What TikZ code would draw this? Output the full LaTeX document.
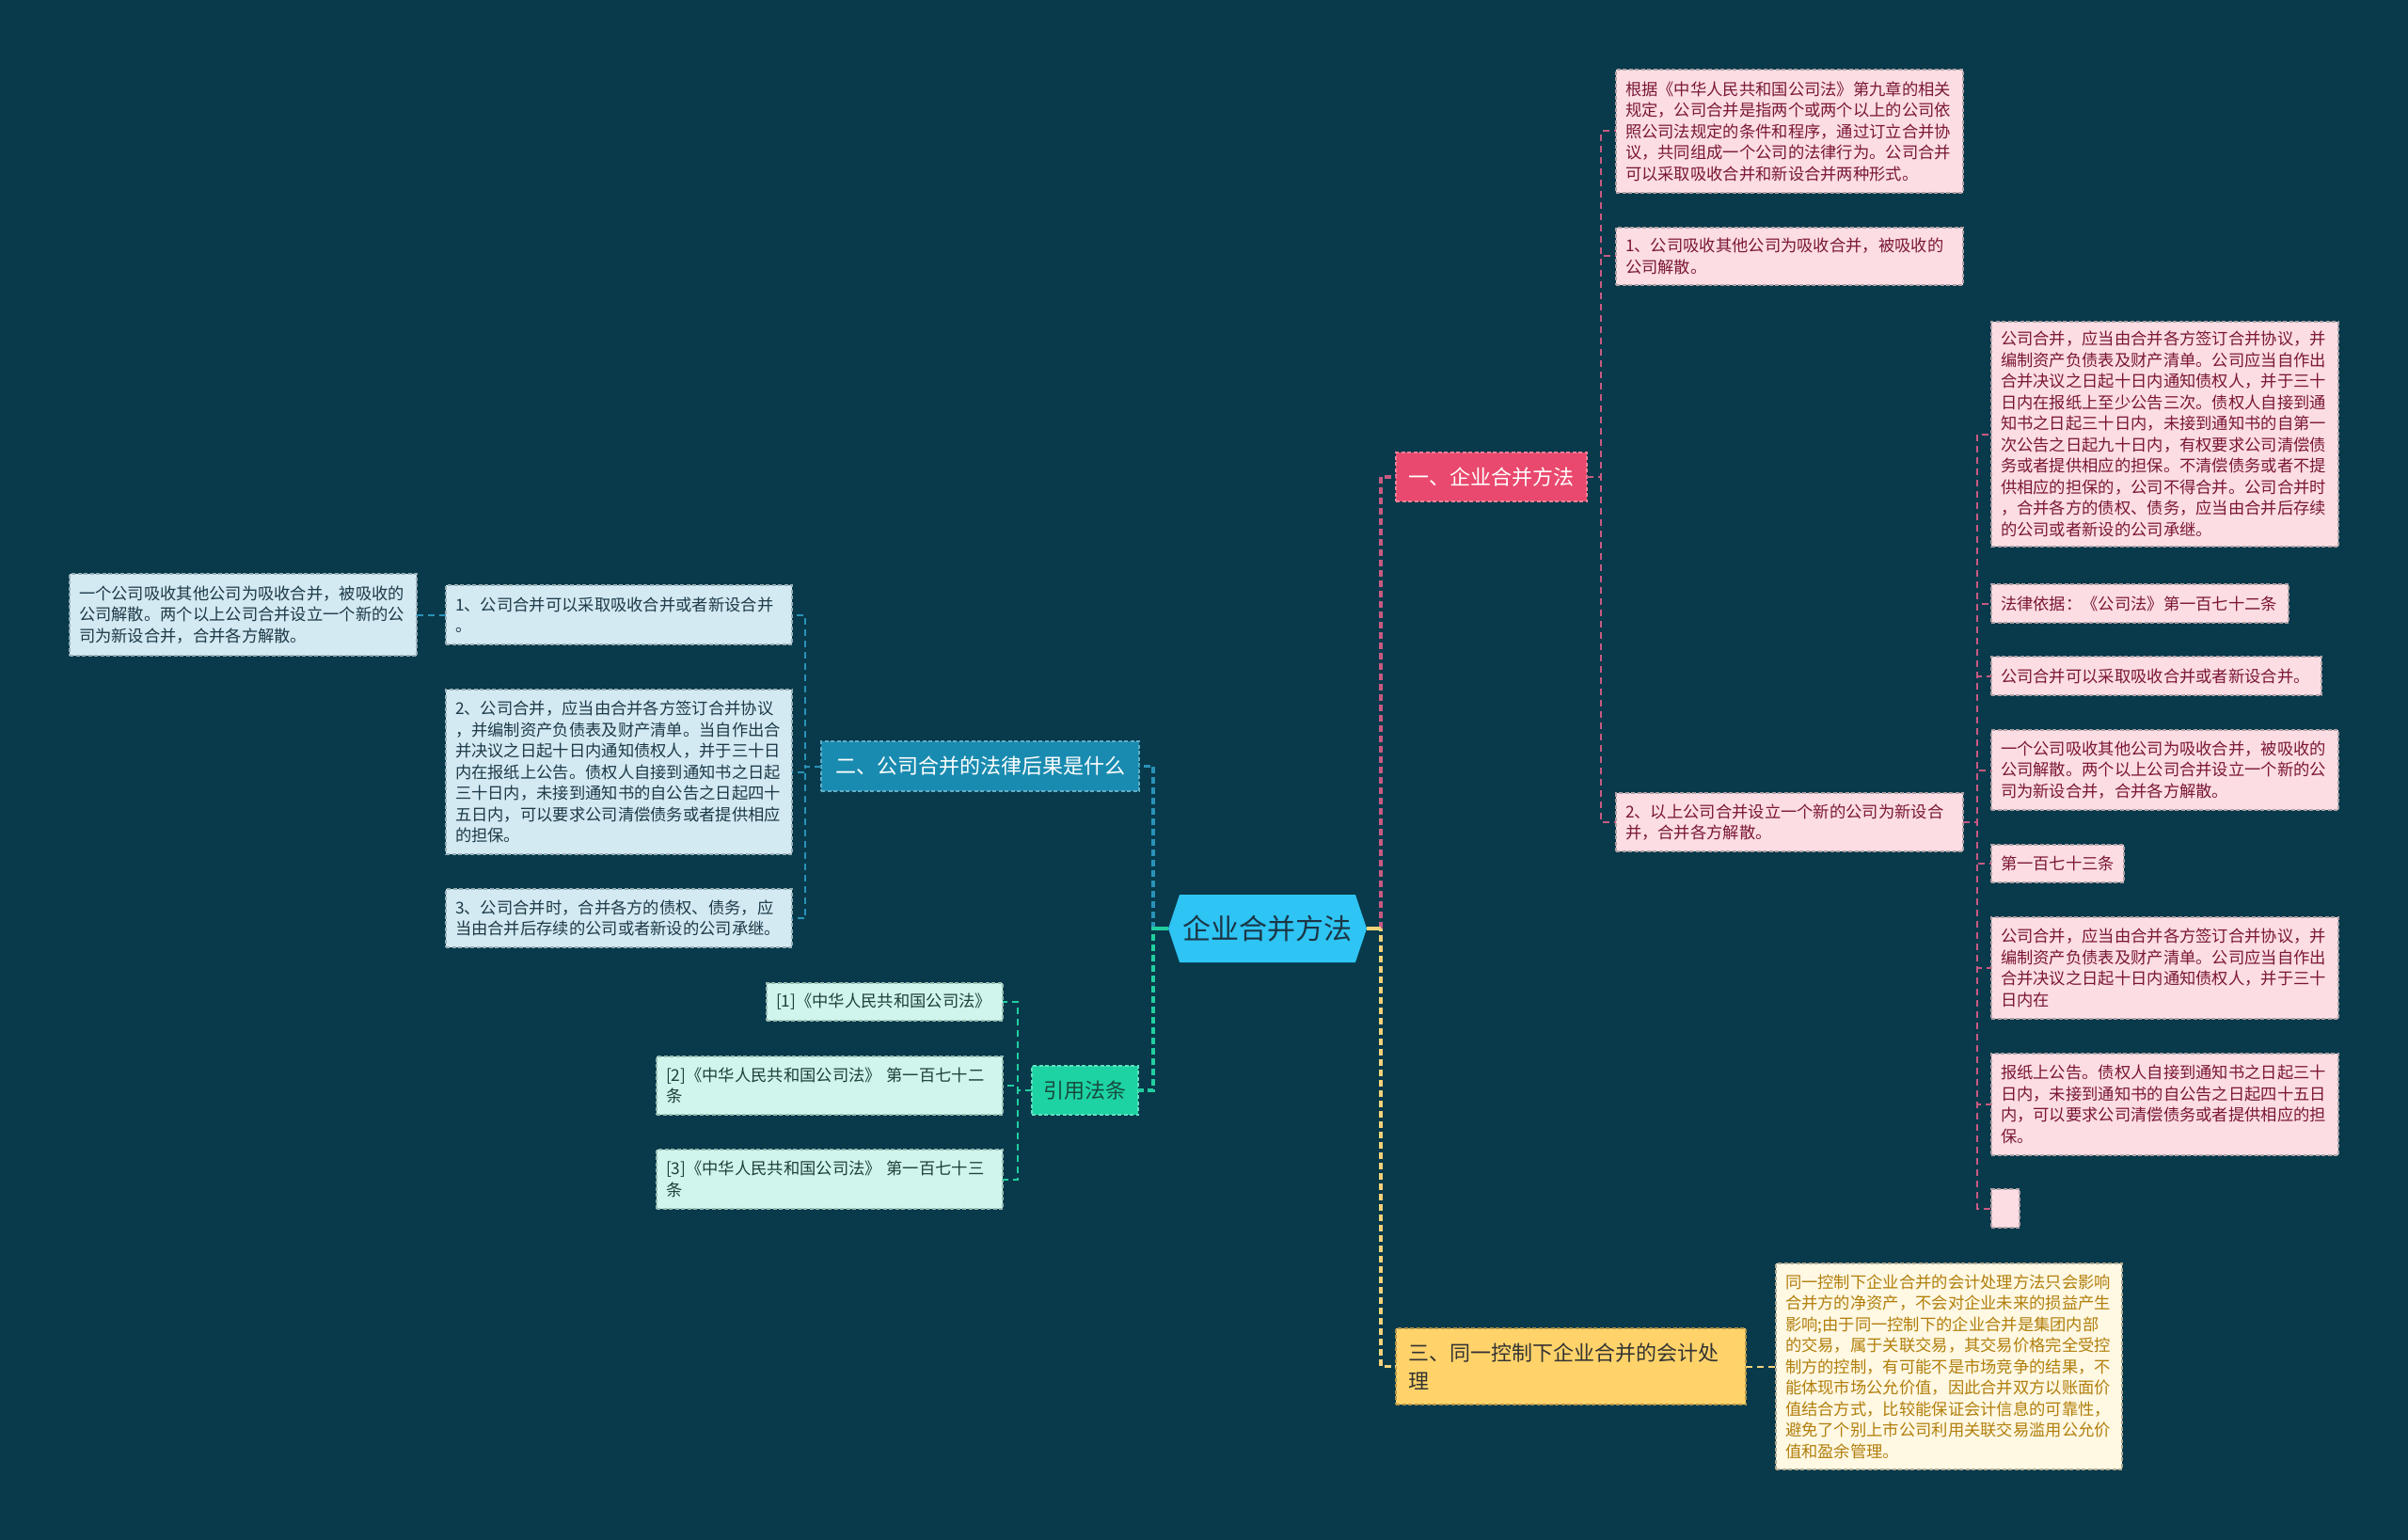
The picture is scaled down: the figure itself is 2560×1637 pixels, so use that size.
\documentclass[tikz,border=0pt]{standalone}
\usepackage{fontspec}
\setmainfont{Noto Sans CJK SC}
\usetikzlibrary{shapes.symbols}
\definecolor{bg}{HTML}{083A4B}
\definecolor{hexfill}{HTML}{2EC4F3}
\definecolor{hextext}{HTML}{1B3545}
\definecolor{pinkN}{HTML}{E9496E}
\definecolor{ylwN}{HTML}{FFD36A}
\definecolor{blueN}{HTML}{1A8BB0}
\definecolor{greenN}{HTML}{1DD3A3}
\definecolor{greenT}{HTML}{184A3E}
\definecolor{pfill}{HTML}{FCDDE3}
\definecolor{ptext}{HTML}{7A1736}
\definecolor{pborder}{HTML}{B0A0A5}
\definecolor{bfill}{HTML}{D3EAF2}
\definecolor{btext}{HTML}{1D3A48}
\definecolor{bborder}{HTML}{98AEB6}
\definecolor{gfill}{HTML}{D0F5EC}
\definecolor{gtext}{HTML}{1E3F3A}
\definecolor{gborder}{HTML}{98BAB0}
\definecolor{yfill}{HTML}{FFF8E3}
\definecolor{ytext}{HTML}{B17F0C}
\definecolor{yborder}{HTML}{B0A890}
\definecolor{plinkc}{HTML}{C85A82}
\definecolor{blinkc}{HTML}{2A92B8}
\definecolor{glinkc}{HTML}{22CFA0}
\definecolor{ylinkc}{HTML}{F3D27A}
\newcommand\leaffont{\fontsize{17.3}{22.5}\selectfont}
\newcommand\mainfont{\fontsize{22}{30}\selectfont}
\begin{document}
\begin{tikzpicture}[x=1pt,y=-1pt,
  every node/.style={inner sep=0pt, outer sep=0pt},
  leafbox/.style={rectangle, draw, dash pattern=on 4pt off 2.5pt, line width=1.2pt,
    align=left, anchor=north west, inner xsep=10pt, inner ysep=0pt, font=\leaffont},
  pleaf/.style={leafbox, fill=pfill, draw=pborder, text=ptext},
  bleaf/.style={leafbox, fill=bfill, draw=bborder, text=btext},
  gleaf/.style={leafbox, fill=gfill, draw=gborder, text=gtext},
  yleaf/.style={leafbox, fill=yfill, draw=yborder, text=ytext},
  mainbox/.style={rectangle, draw, dash pattern=on 4pt off 2.5pt, line width=1.2pt, font=\mainfont, align=center},
  mainlink/.style={line width=3.5pt, dash pattern=on 7pt off 4pt},
  leaflink/.style={line width=2pt, dash pattern=on 7pt off 5pt},
  pmain/.style={mainlink, draw=plinkc},
  ymain/.style={mainlink, draw=ylinkc},
  bmain/.style={mainlink, draw=blinkc},
  gmain/.style={mainlink, draw=glinkc},
  plink/.style={leaflink, draw=plinkc},
  blink/.style={leaflink, draw=blinkc},
  glink/.style={leaflink, draw=glinkc},
  ylink/.style={leaflink, draw=ylinkc}
]
\fill[bg] (0,0) rectangle (2560,1637);
\useasboundingbox (0,0) rectangle (2560,1637);

% root
\node[signal, signal to=east and west, signal pointer angle=143, fill=hexfill,
  minimum width=211pt, minimum height=72pt, text=hextext,
  font=\fontsize{30}{36}\selectfont] (root) at (1347.5,987) {企业合并方法};

% main branches
\node[mainbox, fill=pinkN, draw=pinkN!70!white, text=white, minimum width=203pt, minimum height=52pt] (n1) at (1585.5,507) {一、企业合并方法};
\node[mainbox, fill=blueN, draw=blueN!70!white, text=white, minimum width=338pt, minimum height=53pt] (n2) at (1042,814.5) {二、公司合并的法律后果是什么};
\node[mainbox, fill=ylwN, draw=ylwN!70!black, text=black!80, anchor=north west, align=left, inner xsep=13pt, text width=346pt, minimum height=81pt] (n3) at (1484,1412) {三、同一控制下企业合并的会计处\\理};
\node[mainbox, fill=greenN, draw=greenN!70!white, text=greenT, minimum width=113pt, minimum height=52pt] (n4) at (1153.5,1159) {引用法条};

% right pink leaves
\node[pleaf, text width=349pt, minimum height=131pt] (R1) at (1718,74) {根据《中华人民共和国公司法》第九章的相关\\规定，公司合并是指两个或两个以上的公司依\\照公司法规定的条件和程序，通过订立合并协\\议，共同组成一个公司的法律行为。公司合并\\可以采取吸收合并和新设合并两种形式。};
\node[pleaf, text width=349pt, minimum height=61pt] (R2) at (1718,242) {1、公司吸收其他公司为吸收合并，被吸收的\\公司解散。};
\node[pleaf, text width=349pt, minimum height=62pt] (R3) at (1718,843) {2、以上公司合并设立一个新的公司为新设合\\并，合并各方解散。};

\node[pleaf, text width=349pt, minimum height=239pt] (A) at (2117,342) {公司合并，应当由合并各方签订合并协议，并\\编制资产负债表及财产清单。公司应当自作出\\合并决议之日起十日内通知债权人，并于三十\\日内在报纸上至少公告三次。债权人自接到通\\知书之日起三十日内，未接到通知书的自第一\\次公告之日起九十日内，有权要求公司清偿债\\务或者提供相应的担保。不清偿债务或者不提\\供相应的担保的，公司不得合并。公司合并时\\，合并各方的债权、债务，应当由合并后存续\\的公司或者新设的公司承继。};
\node[pleaf, text width=296pt, minimum height=41pt] (B) at (2117,621) {法律依据：《公司法》第一百七十二条};
\node[pleaf, text width=331pt, minimum height=41pt] (C) at (2117,698) {公司合并可以采取吸收合并或者新设合并。};
\node[pleaf, text width=349pt, minimum height=85pt] (D) at (2117,776) {一个公司吸收其他公司为吸收合并，被吸收的\\公司解散。两个以上公司合并设立一个新的公\\司为新设合并，合并各方解散。};
\node[pleaf, text width=121pt, minimum height=40pt] (E) at (2117,898) {第一百七十三条};
\node[pleaf, text width=349pt, minimum height=108pt] (F) at (2117,975) {公司合并，应当由合并各方签订合并协议，并\\编制资产负债表及财产清单。公司应当自作出\\合并决议之日起十日内通知债权人，并于三十\\日内在};
\node[pleaf, text width=349pt, minimum height=108pt] (G) at (2117,1120) {报纸上公告。债权人自接到通知书之日起三十\\日内，未接到通知书的自公告之日起四十五日\\内，可以要求公司清偿债务或者提供相应的担\\保。};
\node[pleaf, text width=10pt, minimum height=41pt] (H) at (2117,1264) {};

% left blue leaves
\node[bleaf, text width=349pt, minimum height=87pt] (L0) at (74,610) {一个公司吸收其他公司为吸收合并，被吸收的\\公司解散。两个以上公司合并设立一个新的公\\司为新设合并，合并各方解散。};
\node[bleaf, text width=348pt, minimum height=63pt] (L1) at (474,622) {1、公司合并可以采取吸收合并或者新设合并\\。};
\node[bleaf, text width=348pt, minimum height=175pt] (L2) at (474,733) {2、公司合并，应当由合并各方签订合并协议\\，并编制资产负债表及财产清单。当自作出合\\并决议之日起十日内通知债权人，并于三十日\\内在报纸上公告。债权人自接到通知书之日起\\三十日内，未接到通知书的自公告之日起四十\\五日内，可以要求公司清偿债务或者提供相应\\的担保。};
\node[bleaf, text width=348pt, minimum height=62pt] (L3) at (474,945) {3、公司合并时，合并各方的债权、债务，应\\当由合并后存续的公司或者新设的公司承继。};

% green leaves
\node[gleaf, text width=231pt, minimum height=40pt] (G1) at (815,1045) {[1]《中华人民共和国公司法》};
\node[gleaf, text width=348pt, minimum height=62pt] (G2) at (698,1123) {[2]《中华人民共和国公司法》 第一百七十二\\条};
\node[gleaf, text width=348pt, minimum height=63pt] (G3) at (698,1222) {[3]《中华人民共和国公司法》 第一百七十三\\条};

% yellow leaf
\node[yleaf, text width=348pt, minimum height=219pt] (Y1) at (1888,1343) {同一控制下企业合并的会计处理方法只会影响\\合并方的净资产，不会对企业未来的损益产生\\影响;由于同一控制下的企业合并是集团内部\\的交易，属于关联交易，其交易价格完全受控\\制方的控制，有可能不是市场竞争的结果，不\\能体现市场公允价值，因此合并双方以账面价\\值结合方式，比较能保证会计信息的可靠性，\\避免了个别上市公司利用关联交易滥用公允价\\值和盈余管理。};

% main connectors
\draw[ymain] (root.east) -- ++(15,0) |- (n3.west);
\draw[pmain] (root.east) ++(15,0) |- (n1.west);
\draw[ymain, solid] (root.east) -- ++(15,0);
\draw[bmain] (root.west) ++(-16,0) |- (n2.east);
\draw[gmain] (root.west) -- ++(-16,0) |- (n4.east);
\draw[gmain, solid] (root.west) -- ++(-16,0);

% leaf connectors
\foreach \c in {R1,R2,R3} \draw[plink] (n1.east) -- ++(15,0) |- (\c.west);
\foreach \c in {A,B,C,D,E,F,G,H} \draw[plink] (R3.east) -- ++(15,0) |- (\c.west);
\foreach \c in {L1,L2,L3} \draw[blink] (n2.west) -- ++(-17,0) |- (\c.east);
\draw[blink] (L1.west) -- (L0.east);
\foreach \c in {G1,G2,G3} \draw[glink] (n4.west) -- ++(-15,0) |- (\c.east);
\draw[ylink] (n3.east) -- (Y1.west);
\end{tikzpicture}
\end{document}
